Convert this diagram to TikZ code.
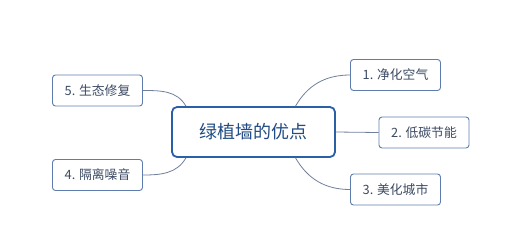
\documentclass[tikz,border=0pt]{standalone}
\usepackage{fontspec}
\setmainfont{Noto Sans CJK SC}
\usetikzlibrary{calc}
\definecolor{hubblue}{HTML}{2B5FA6}
\definecolor{leafblue}{HTML}{5E7DAE}
\definecolor{linkgray}{HTML}{6F7F9C}
\definecolor{textgray}{HTML}{3C4A63}

\begin{document}
\begin{tikzpicture}[x=1pt, y=-1pt,
  hub/.style={draw=hubblue, line width=1.8pt, rounded corners=5pt, fill=white,
    minimum width=163pt, minimum height=50pt, inner sep=0pt,
    text=hubblue!80!black, font=\fontsize{18}{21}\selectfont},
  leaf/.style={draw=leafblue, line width=0.9pt, rounded corners=3pt, fill=white,
    minimum width=90pt, minimum height=31pt, inner sep=0pt,
    text=textgray, font=\fontsize{12.8}{15}\selectfont},
  link/.style={draw=linkgray, line width=0.8pt}]
  \useasboundingbox (0,0) rectangle (519,239);
  \node[hub] (c) at (253.5,132) {绿植墙的优点};
  \node[leaf] (b1) at (395.5,75) {1. 净化空气};
  \node[leaf] (b2) at (424,132.5) {2. 低碳节能};
  \node[leaf] (b3) at (395.5,189.5) {3. 美化城市};
  \node[leaf] (b4) at (97.5,175) {4. 隔离噪音};
  \node[leaf] (b5) at (97.5,90.5) {5. 生态修复};
  % anchors on the hub edges
  \coordinate (ctr) at ($(c.north west)!0.755!(c.north east)$);
  \coordinate (cbr) at ($(c.south west)!0.755!(c.south east)$);
  \coordinate (ctl) at ($(c.north west)!0.09!(c.north east)$);
  \coordinate (cbl) at ($(c.south west)!0.09!(c.south east)$);
  \draw[link] (ctr) to[out=60,in=180] (b1.west);
  \draw[link] (c.east) -- (b2.west);
  \draw[link] (cbr) to[out=-60,in=180] (b3.west);
  \draw[link] (b5.east) to[out=0,in=120] (ctl);
  \draw[link] (b4.east) to[out=0,in=-120] (cbl);
\end{tikzpicture}
\end{document}
